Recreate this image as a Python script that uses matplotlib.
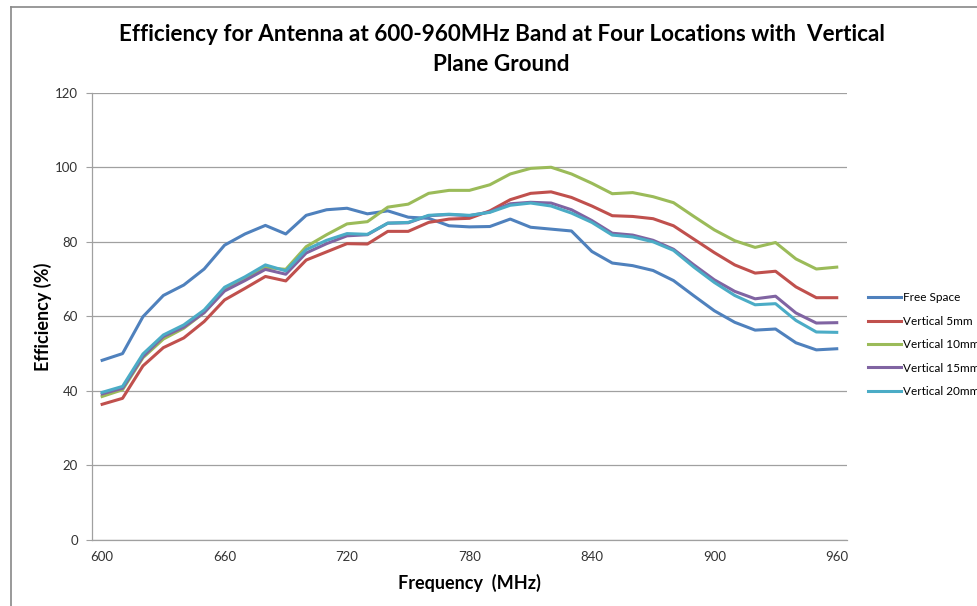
import matplotlib.pyplot as plt
import numpy as np

plt.rcParams['font.family'] = ['Lato', 'DejaVu Sans']

# Frecuencias (MHz), un punto cada 10 MHz
freq = np.arange(600, 961, 10)

free_space = [48.2, 50.0, 59.9, 65.6, 68.4, 72.7, 79.1, 82.1, 84.4, 82.1,
              87.1, 88.6, 89.0, 87.5, 88.3, 86.6, 86.3, 84.3, 84.0, 84.1,
              86.1, 83.9, 83.4, 82.9, 77.4, 74.3, 73.6, 72.3, 69.6, 65.5,
              61.5, 58.4, 56.3, 56.6, 52.9, 51.0, 51.3]
vertical_5 = [36.4, 38.0, 46.7, 51.6, 54.2, 58.6, 64.4, 67.5, 70.7, 69.5,
              75.1, 77.3, 79.5, 79.4, 82.8, 82.8, 85.2, 86.1, 86.3, 88.3,
              91.3, 93.0, 93.4, 91.9, 89.6, 87.0, 86.8, 86.2, 84.3, 80.7,
              77.1, 73.8, 71.6, 72.1, 67.9, 65.0, 65.0]
vertical_10 = [38.5, 40.3, 48.9, 53.9, 56.8, 61.0, 67.1, 69.9, 73.1, 72.6,
               78.7, 81.9, 84.8, 85.4, 89.3, 90.1, 93.0, 93.8, 93.8, 95.3,
               98.2, 99.7, 100.0, 98.2, 95.7, 92.9, 93.2, 92.1, 90.5, 86.8,
               83.2, 80.3, 78.5, 79.8, 75.4, 72.7, 73.2]
vertical_15 = [39.2, 40.7, 49.2, 54.6, 57.1, 61.0, 66.8, 69.6, 72.6, 71.3,
               77.0, 79.5, 81.6, 81.9, 85.0, 85.1, 87.0, 87.3, 87.0, 88.0,
               90.2, 90.6, 90.4, 88.6, 85.7, 82.3, 81.8, 80.4, 78.0, 73.8,
               69.8, 66.7, 64.7, 65.4, 60.9, 58.2, 58.3]
vertical_20 = [39.6, 41.2, 49.9, 55.0, 57.7, 61.7, 67.8, 70.6, 73.8, 72.2,
               77.9, 80.4, 82.2, 82.0, 85.0, 85.2, 87.1, 87.4, 87.1, 87.9,
               89.8, 90.4, 89.6, 87.7, 85.2, 81.8, 81.3, 80.0, 77.7, 73.2,
               69.1, 65.6, 63.1, 63.4, 58.9, 55.8, 55.7]

series = [
    ("Free Space", free_space, "#4F81BD"),
    ("Vertical 5mm", vertical_5, "#C0504D"),
    ("Vertical 10mm", vertical_10, "#9BBB59"),
    ("Vertical 15mm", vertical_15, "#8064A2"),
    ("Vertical 20mm", vertical_20, "#4BACC6"),
]

fig = plt.figure(figsize=(9.78, 6.06), dpi=100)
ax = fig.add_axes([0.094, 0.109, 0.772, 0.738])

for nombre, valores, color in series:
    ax.plot(freq, valores, color=color, linewidth=2.2, label=nombre)

ax.set_xlim(595, 965)
ax.set_ylim(0, 120)
ax.set_yticks(np.arange(0, 121, 20))
ax.set_xticks(np.arange(600, 961, 60))
ax.grid(axis='y', color='#a0a0a0', linewidth=0.9)
ax.set_axisbelow(True)

for lado in ['top', 'right']:
    ax.spines[lado].set_visible(False)
for lado in ['left', 'bottom']:
    ax.spines[lado].set_color('#a0a0a0')
    ax.spines[lado].set_linewidth(0.9)

ax.tick_params(axis='y', length=4, color='#a0a0a0', labelsize=9.5,
               labelcolor='#333333', pad=6)
ax.tick_params(axis='x', length=0, labelsize=9.5, labelcolor='#333333', pad=8)

ax.set_xlabel("Frequency  (MHz)", fontsize=13, fontweight='bold', labelpad=8)
ax.set_ylabel("Efficiency (%)", fontsize=13, fontweight='bold', labelpad=2)

fig.text(0.513, 0.918,
         "Efficiency for Antenna at 600-960MHz Band at Four Locations with  Vertical\nPlane Ground",
         ha='center', va='center', fontsize=16.2, fontweight='bold', linespacing=1.5)

ax.legend(loc='upper left', bbox_to_anchor=(0.877, 0.535),
          bbox_transform=fig.transFigure, frameon=False, fontsize=8.5,
          handlelength=2.8, handletextpad=0.1, labelspacing=1.05)

# Borde del gráfico (esquina superior izquierda visible)
fig.add_artist(plt.Line2D([0.011, 0.011], [0.0, 0.988], color='#888888', linewidth=1.2))
fig.add_artist(plt.Line2D([0.011, 1.0], [0.988, 0.988], color='#888888', linewidth=1.2))

fig.savefig("out.png", dpi=100)
